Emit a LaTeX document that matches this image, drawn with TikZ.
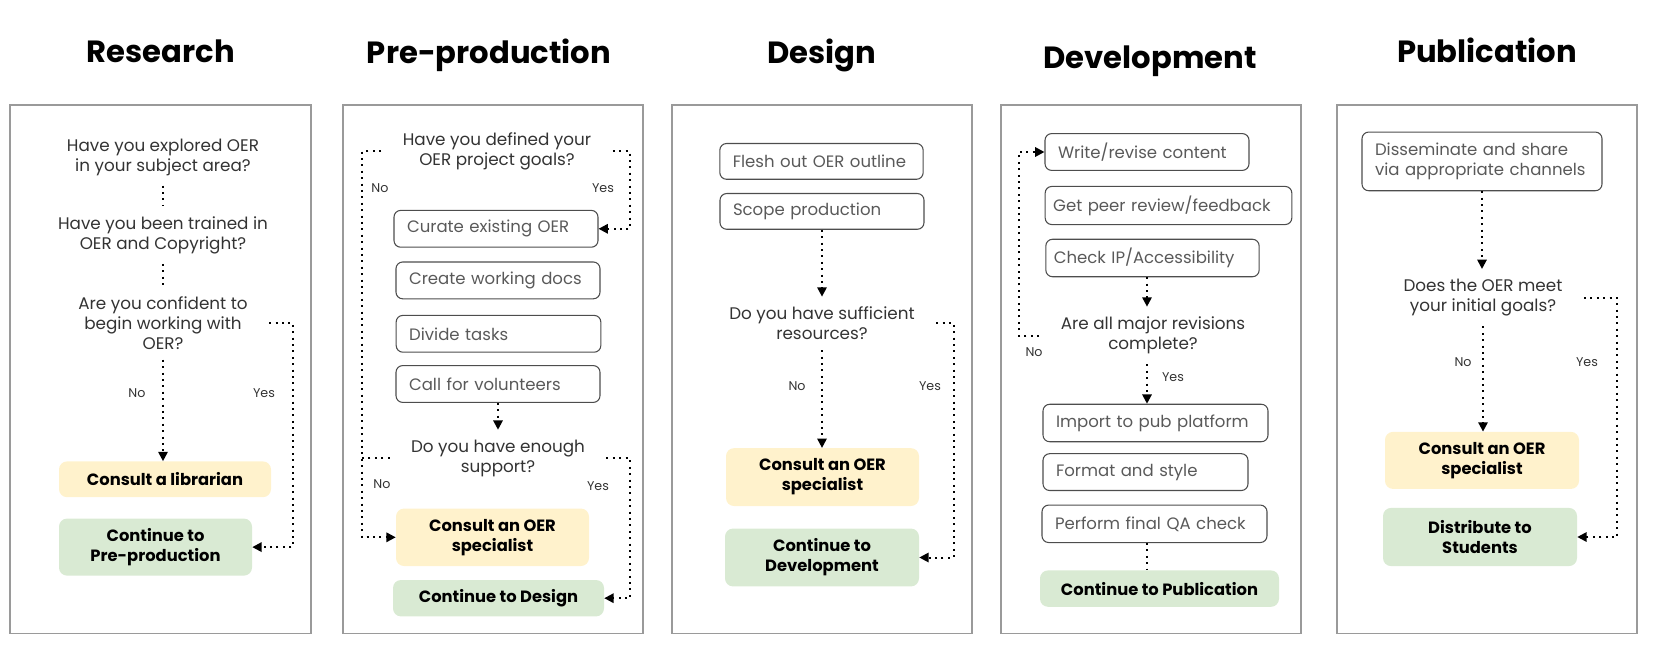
\documentclass[tikz,border=0pt]{standalone}
\usepackage{fontspec}
\setmainfont{Poppins}
\usetikzlibrary{arrows.meta,positioning}
\definecolor{panelgray}{HTML}{9A9A9A}
\definecolor{asktext}{HTML}{333333}
\definecolor{tasktext}{HTML}{595959}
\definecolor{taskline}{HTML}{4D4D4D}
\definecolor{helpfill}{HTML}{FFF2CC}
\definecolor{nextfill}{HTML}{D9EAD3}

\begin{document}
\begin{tikzpicture}[x=0.75pt,y=-0.75pt,
	title/.style={anchor=base,font=\bfseries\fontsize{23}{27}\selectfont},
	ask/.style={align=center,text=asktext,inner xsep=16pt,inner ysep=7.5pt,
		font=\fontsize{12.6}{15}\selectfont},
	taskbox/.style={draw=taskline,line width=0.8pt,rounded corners=5pt,
		text=tasktext,text width=#1,align=left,inner xsep=9.75pt,
		minimum height=27.6pt,font=\fontsize{12.4}{15}\selectfont},
	helpbox/.style 2 args={fill=helpfill,rounded corners=6pt,align=center,
		minimum width=#1,minimum height=#2,font=\bfseries\fontsize{12.25}{15}\selectfont},
	nextbox/.style 2 args={fill=nextfill,rounded corners=6pt,align=center,
		minimum width=#1,minimum height=#2,font=\bfseries\fontsize{12.25}{15}\selectfont},
	yn/.style={text=asktext,font=\fontsize{9.5}{11}\selectfont},
	dotline/.style={line width=1.5pt,dash pattern=on 1.5pt off 3.3pt},
	flow/.style={dotline,-{Triangle[length=7pt,width=7pt]}}]

	\useasboundingbox (0,0) rectangle (1653,649);

	\begin{scope}[draw=panelgray,line width=1pt]
		\draw (10,105) rectangle (311,633.5);
		\draw (343,105) rectangle (643,633.5);
		\draw (672,105) rectangle (972,633.5);
		\draw (1001,105) rectangle (1301,633.5);
		\draw (1337,105) rectangle (1637,633.5);
	\end{scope}

	\node[title] (tres) at (161,63) {Research};
	\node[title] (tpre) at (489,64) {Pre-production};
	\node[title] (tdes) at (822,64) {Design};
	\node[title] (tdev) at (1150,69) {Development};
	\node[title] (tpub) at (1487,62.5) {Publication};

	\node[ask] (exp) at (163,157) {Have you explored OER\\in your subject area?};
	\node[ask] (trn) at (163,235) {Have you been trained in\\OER and Copyright?};
	\node[ask] (cnf) at (163,323) {Are you confident to\\begin working with\\OER?};
	\node[helpbox={159pt}{26.8pt}] (lib) at (165,479.3) {Consult a librarian};
	\node[nextbox={144.75pt}{42.75pt}] (pre) at (155.5,547.1) {Continue to\\Pre-production};
	\coordinate (cnfyes) at (293,323);
	\node[yn] (cnfn) at (137,393.6) {No};
	\node[yn] (cnfy) at (264,393.6) {Yes};

	\node[ask] (gol) at (497,151.5) {Have you defined your\\OER project goals?};
	\node[taskbox=133.5pt] (cur) at (496,228.8) {Curate existing OER};
	\node[taskbox=133.5pt] (wdoc) at (498,280.4) {Create working docs};
	\node[taskbox=134pt] (div) at (498.5,333.8) {Divide tasks};
	\node[taskbox=133.5pt] (vol) at (498,384) {Call for volunteers};
	\node[ask] (sup) at (498,458.4) {Do you have enough\\support?};
	\node[helpbox={144.75pt}{43.1pt}] (spc2) at (492.5,537.3) {Consult an OER\\specialist};
	\node[nextbox={158.25pt}{27.3pt}] (des) at (498.5,598.2) {Continue to Design};
	\coordinate (golno) at (362,151.5);
	\coordinate (golyes) at (630,151.5);
	\coordinate (supno) at (362,458.4);
	\coordinate (supyes) at (630,458.4);
	\node[yn] (goln) at (380,188) {No};
	\node[yn] (goly) at (603,188) {Yes};
	\node[yn] (supn) at (382,484.6) {No};
	\node[yn] (supy) at (598,486.4) {Yes};

	\node[taskbox=133pt,minimum height=26.8pt] (fle) at (821.5,161.4) {Flesh out OER outline};
	\node[taskbox=133.5pt,minimum height=26.8pt] (sco) at (822,211.4) {Scope production};
	\node[ask] (res) at (822,323.4) {Do you have sufficient\\resources?};
	\node[helpbox={144.75pt}{43.4pt}] (spc3) at (822.5,477.1) {Consult an OER\\specialist};
	\node[nextbox={145.5pt}{43.4pt}] (dev) at (822,557.5) {Continue to\\Development};
	\coordinate (resyes) at (954,323.4);
	\node[yn] (resn) at (797,386.4) {No};
	\node[yn] (resy) at (930,386.4) {Yes};

	\node[taskbox=133.5pt] (wri) at (1147,152) {Write/revise content};
	\node[taskbox=173pt,inner xsep=6pt,minimum height=28.6pt] (pee) at (1168.5,205.5) {Get peer review/feedback};
	\node[taskbox=148pt,inner xsep=6pt,minimum height=28.1pt] (chk) at (1152.5,258) {Check IP/Accessibility};
	\node[ask] (rev) at (1153,335.5) {Are all major revisions\\complete?};
	\node[taskbox=149.25pt,minimum height=28.1pt] (imp) at (1155.5,423) {Import to pub platform};
	\node[taskbox=134.25pt] (fmt) at (1145.5,472.1) {Format and style};
	\node[taskbox=149.25pt,minimum height=28.1pt] (qa) at (1154.5,523.8) {Perform final QA check};
	\node[nextbox={179.25pt}{27.3pt}] (pub) at (1159.5,588.6) {Continue to Publication};
	\coordinate (revno) at (1019,335.5);
	\node[yn] (revn) at (1034,351.8) {No};
	\node[yn] (revy) at (1173,376.8) {Yes};

	\node[taskbox=160.5pt,minimum height=44pt] (dis) at (1482,161.4) {Disseminate and share\\via appropriate channels};
	\node[ask] (met) at (1483,297.7) {Does the OER meet\\your initial goals?};
	\node[helpbox={145.5pt}{42.8pt}] (spc5) at (1482,460.4) {Consult an OER\\specialist};
	\node[nextbox={145.5pt}{43.6pt}] (stu) at (1480,537) {Distribute to\\Students};
	\coordinate (metyes) at (1617,297.7);
	\node[yn] (metn) at (1463,362.1) {No};
	\node[yn] (mety) at (1587,362.1) {Yes};

	\draw[dotline] (exp.south) -- (trn.north);
	\draw[dotline] (trn.south) -- (cnf.north);
	\draw[flow] (cnf.south) -- (cnf.south |- lib.north);
	\draw[flow] (cnf.east) -- (cnfyes) |- (pre.east);

	\draw[flow] (gol.west) -- (golno) |- (spc2.west);
	\draw[flow] (gol.east) -- (golyes) |- (cur.east);
	\draw[flow] (vol.south) -- (vol.south |- sup.north);
	\draw[dotline] (sup.west) -- (supno);
	\draw[flow] (sup.east) -- (supyes) |- (des.east);

	\draw[flow] (sco.south) -- (sco.south |- res.north);
	\draw[flow] (res.south) -- (res.south |- spc3.north);
	\draw[flow] (res.east) -- (resyes) |- (dev.east);

	\draw[flow] (wri.south |- chk.south) -- (wri.south |- rev.north);
	\draw[flow] (rev.west) -- (revno) |- (wri.west);
	\draw[flow] (wri.south |- rev.south) -- (wri.south |- imp.north);
	\draw[dotline] (wri.south |- qa.south) -- (wri.south |- pub.north);

	\draw[flow] (dis.south) -- (dis.south |- met.north);
	\draw[flow] (met.south) -- (met.south |- spc5.north);
	\draw[flow] (met.east) -- (metyes) |- (stu.east);
\end{tikzpicture}
\end{document}
